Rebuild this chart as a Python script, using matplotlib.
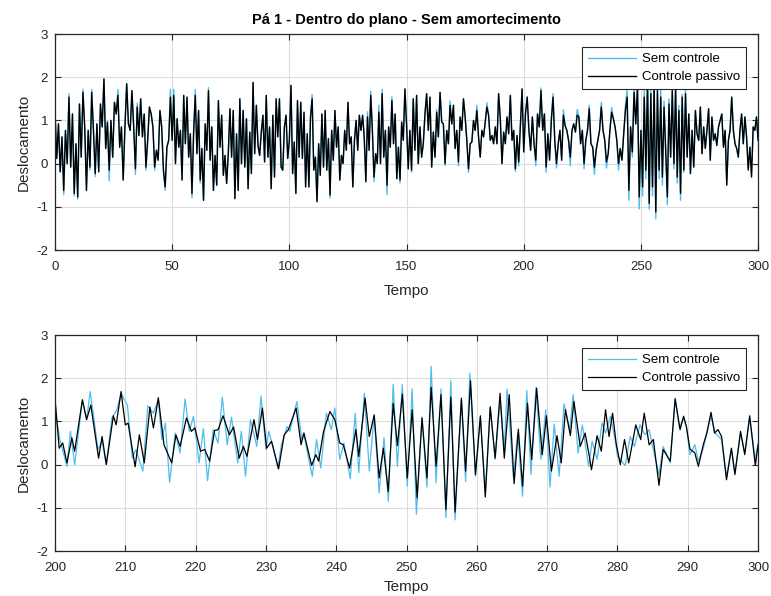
import matplotlib.pyplot as plt
import numpy as np

plt.rcParams['font.family'] = ['Liberation Sans', 'DejaVu Sans']
plt.rcParams['axes.unicode_minus'] = False

# ---- top panel: whole record, one list per 50 s window ----
top_windows = [(0, 50), (50, 100), (100, 150), (150, 200), (200, 250), (250, 300)]

top_passivo = [
    [1.23, 0.12, 0.92, -0.19, 0.62, -0.62, 0.77, 0.0, 1.54, -0.08, 1.15, -0.69, 0.46, -0.77, 1.38, 0.15,
     1.65, 0.85, -0.62, 0.77, -0.08, 1.65, 0.77, -0.23, 0.92, -0.19, 1.38, 0.85, 1.96, 0.35, 0.96, -0.15,
     1.0, 0.15, 1.42, 1.15, 1.58, 0.38, 0.85, -0.38, 0.85, 1.85, 0.92, 0.77, 1.69, 0.85, -0.12, 1.31,
     0.65, 1.50, 0.62, 1.15, -0.08, 0.54, 1.31, 1.15, 0.85, -0.08, 0.31, 0.08, 1.23, 0.85, -0.15, -0.54,
     0.38, 0.54, 1.54],
    [0.54, 1.58, 0.0, 1.04, 0.38, 0.77, -0.38, 1.58, 0.46, 1.54, 0.15, 0.69, -0.69, 0.73, 1.58, 0.23,
     1.23, -0.38, 0.35, -0.85, 0.92, 0.31, 1.69, 0.08, 0.85, -0.62, 0.19, -0.5, 1.46, 0.38, 1.12, -0.27,
     0.19, -0.46, 0.23, 1.27, 0.15, 1.23, -0.81, 0.69, -0.62, 1.5, 0.0, 1.23, -0.08, 1.04, -0.58, 0.73,
     -0.23, 1.88, 0.23, 1.35, 0.42, 0.19, 0.73, 1.12, 0.04, 1.58, 0.15, 0.85, -0.58, 1.12, -0.31, 1.5,
     0.62, 1.5, -0.08, -0.15, 0.85, 1.12, 0.12],
    [0.54, 1.81, -0.23, 0.5, -0.69, 1.46, 0.15, 1.42, 0.12, 1.19, -0.54, 0.69, -0.54, 1.08, 1.5, -0.15,
     0.15, -0.88, 0.46, -0.27, 1.15, -0.08, 1.23, -0.15, 0.58, -0.73, 0.77, 0.08, 1.23, 0.38, 0.85, -0.38,
     0.19, 0.0, 0.77, 0.31, 1.42, 0.46, 0.62, -0.54, 0.54, 1.0, 0.31, 1.12, 0.77, 1.12, 0.62, -0.42,
     1.08, 0.31, 1.58, 0.77, -0.31, 0.23, 0.0, 1.19, 0.0, 1.62, 0.15, 0.77, -0.5, 0.85, 0.38, 1.46,
     0.46, 1.15, -0.35, 0.38, -0.38, 0.96, 0.54, 1.73],
    [0.92, -0.12, 0.77, -0.15, 1.5, 0.31, 1.58, 0.0, 0.85, 0.15, 0.46, 1.15, 1.62, 0.77, 1.54, -0.08,
     0.73, 0.15, 1.19, 0.62, 1.65, 0.96, 0.92, 0.0, 0.77, 0.46, 1.35, 0.92, 1.35, 0.35, 0.77, 0.04,
     1.08, 0.77, 1.5, 1.08, 0.54, -0.12, 0.46, 0.5, 1.0, 0.77, 1.23, 0.62, 0.15, 0.77, 0.62, 0.96,
     1.31, 1.12, 0.54, 0.65, 0.46, 0.85, 0.46, 1.62, 1.04, 0.0, 0.73, 0.46, 1.08, 0.69, 1.58, 0.54,
     0.77, -0.12, 0.65, 0.04, 0.88, 1.73],
    [0.27, 1.15, 1.54, 0.77, 0.31, 1.08, 0.46, 0.08, 1.15, 0.85, 1.69, 0.77, 1.15, -0.08, 0.69, 0.08,
     1.0, 1.54, 0.54, 0.0, 0.46, 0.77, 0.08, 1.12, 0.88, 0.77, 0.54, 0.15, 0.77, 0.92, 0.73, 1.12,
     1.08, 0.46, 0.77, 0.0, 0.54, 0.77, 1.27, 0.46, 0.38, -0.08, 0.31, 0.54, 0.77, 1.31, 0.77, 0.54,
     0.04, 0.23, 0.77, 1.19, 1.04, 0.85, 0.54, 0.0, 0.35, 0.08, 0.69, 1.23, 1.54, -0.62, 0.85, 0.27,
     1.65, 0.92, 1.77, -0.77],
    [0.77, -0.54, 1.54, -0.15, 1.92, -0.92, 1.62, -0.54, 1.85, -1.12, 1.69, -0.15, 1.54, -0.31, 1.31, 0.31,
     -0.77, 1.38, 0.15, 1.69, 0.0, 1.77, -0.31, 1.23, -0.69, 1.54, -0.15, 1.62, 0.15, 1.15, -0.23, 0.77,
     -0.08, 1.23, 0.69, 0.54, 1.31, 0.23, 0.85, 0.35, 0.77, 1.27, 0.08, 1.08, 0.54, 0.69, 0.42, 0.85,
     1.0, 1.15, 0.38, 0.77, -0.5, 0.54, 0.77, 1.54, 0.77, 0.46, 0.35, 0.15, 0.77, 1.15, 0.46, 1.08,
     0.62, -0.15, 0.38, -0.31, 0.85, 0.77, 1.08, 0.54],
]

top_sem = [
    [1.23, 0.12, 0.92, -0.19, 0.62, -0.72, 0.77, 0.0, 1.62, -0.08, 1.15, -0.75, 0.46, -0.82, 1.38, 0.15,
     1.72, 0.85, -0.62, 0.77, -0.15, 1.72, 0.77, -0.3, 0.92, -0.19, 1.38, 0.85, 1.96, 0.35, 0.96, -0.4,
     1.0, 0.15, 1.42, 1.15, 1.72, 0.38, 0.85, -0.38, 0.85, 1.85, 0.92, 0.77, 1.69, 0.85, -0.25, 1.4,
     0.65, 1.5, 0.62, 1.15, -0.15, 0.54, 1.31, 1.15, 0.85, -0.15, 0.31, 0.08, 1.23, 0.85, -0.15, -0.62,
     0.38, 0.54, 1.72],
    [0.54, 1.72, 0.0, 1.04, 0.38, 0.77, -0.38, 1.58, 0.46, 1.54, 0.15, 0.69, -0.79, 0.73, 1.72, 0.23,
     1.23, -0.45, 0.35, -0.85, 0.92, 0.31, 1.76, 0.08, 0.85, -0.62, 0.19, -0.5, 1.46, 0.38, 1.12, -0.27,
     0.19, -0.46, 0.23, 1.27, 0.15, 1.23, -0.81, 0.69, -0.62, 1.5, 0.0, 1.23, -0.08, 1.04, -0.58, 0.73,
     -0.23, 1.88, 0.23, 1.35, 0.42, 0.19, 0.73, 1.12, 0.04, 1.58, 0.15, 0.85, -0.58, 1.12, -0.31, 1.5,
     0.62, 1.5, -0.08, -0.15, 0.85, 1.12, 0.12],
    [0.54, 1.81, -0.23, 0.5, -0.69, 1.46, 0.15, 1.42, 0.12, 1.19, -0.54, 0.69, -0.54, 1.08, 1.6, -0.15,
     0.15, -0.88, 0.46, -0.27, 1.15, -0.08, 1.23, -0.15, 0.58, -0.8, 0.77, 0.08, 1.23, 0.38, 0.85, -0.38,
     0.19, 0.0, 0.77, 0.31, 1.42, 0.46, 0.62, -0.54, 0.54, 1.0, 0.31, 1.12, 0.77, 1.12, 0.62, -0.42,
     1.2, 0.31, 1.68, 0.77, -0.42, 0.23, 0.0, 1.35, 0.0, 1.72, 0.15, 0.77, -0.72, 0.85, 0.38, 1.55,
     0.46, 1.15, -0.35, 0.38, -0.45, 0.96, 0.54, 1.73],
    [0.92, -0.12, 0.77, -0.2, 1.5, 0.31, 1.58, 0.0, 0.85, 0.15, 0.46, 1.15, 1.62, 0.77, 1.54, -0.08,
     0.73, 0.15, 1.25, 0.62, 1.65, 0.96, 0.92, -0.05, 0.77, 0.46, 1.45, 0.92, 1.35, 0.35, 0.77, -0.05,
     1.08, 0.77, 1.5, 1.08, 0.54, -0.2, 0.46, 0.5, 1.0, 0.77, 1.35, 0.62, 0.15, 0.77, 0.62, 0.96,
     1.41, 1.12, 0.54, 0.65, 0.46, 0.85, 0.46, 1.62, 1.04, 0.0, 0.73, 0.46, 1.08, 0.69, 1.58, 0.54,
     0.77, -0.18, 0.65, -0.05, 0.88, 1.73],
    [0.27, 1.15, 1.54, 0.77, 0.31, 1.08, 0.46, -0.05, 1.15, 0.85, 1.75, 0.77, 1.15, -0.2, 0.69, 0.08,
     1.0, 1.62, 0.54, -0.1, 0.46, 0.77, 0.08, 1.25, 0.88, 0.77, 0.54, -0.05, 0.77, 0.92, 0.73, 1.25,
     1.08, 0.46, 0.77, -0.12, 0.54, 0.77, 1.35, 0.46, 0.38, -0.25, 0.31, 0.54, 0.77, 1.42, 0.77, 0.54,
     -0.1, 0.23, 0.77, 1.3, 1.04, 0.85, 0.54, -0.15, 0.35, 0.08, 0.69, 1.35, 1.7, -0.85, 0.85, 0.15,
     1.8, 0.92, 1.85, -1.05],
    [0.77, -0.75, 1.7, -0.35, 1.95, -1.05, 1.75, -0.75, 1.9, -1.28, 1.8, -0.35, 1.7, -0.5, 1.45, 0.31,
     -0.95, 1.5, 0.15, 1.75, -0.12, 1.8, -0.45, 1.35, -0.85, 1.6, -0.2, 1.7, 0.15, 1.15, -0.23, 0.77,
     -0.08, 1.23, 0.69, 0.54, 1.31, 0.23, 0.85, 0.35, 0.77, 1.27, 0.08, 1.08, 0.54, 0.69, 0.42, 0.85,
     1.0, 1.15, 0.38, 0.77, -0.45, 0.54, 0.77, 1.54, 0.77, 0.46, 0.35, 0.15, 0.77, 1.15, 0.46, 1.08,
     0.62, -0.1, 0.38, -0.25, 0.85, 0.77, 1.08, 0.54],
]

# ---- bottom panel: zoom 200-300 s, (time, value) at turning points ----
zoom_t_passivo = [200.0, 200.6, 201.1, 201.7, 202.4, 202.8, 203.9, 204.5, 205.1, 206.2, 206.7, 207.3, 208.3, 208.7,
                  209.4, 210.0, 210.4, 211.4, 212.0, 212.7, 213.5, 214.0, 214.7, 215.5, 216.6, 217.2, 217.8, 218.7,
                  219.4, 219.9, 220.7, 221.3, 222.0, 222.7, 223.2, 223.9, 224.8, 225.4, 226.2, 226.8, 227.3, 228.3,
                  228.8, 229.5, 230.1, 230.8, 231.8, 232.6, 233.2, 234.3, 235.0, 235.4, 236.5, 237.1, 237.5, 238.2,
                  239.1, 239.8, 240.5, 241.0, 241.9, 242.8, 243.2, 244.1, 244.7, 245.4, 246.1, 246.7, 247.4, 248.1,
                  248.7, 249.4, 250.1, 250.8, 251.5, 252.2, 252.9, 253.5, 254.2, 254.9, 255.6, 256.3, 256.9, 257.8,
                  258.4, 259.1, 259.8, 260.5, 261.2, 261.9, 262.6, 263.3, 263.9, 264.6, 265.3, 265.9, 266.5, 267.2,
                  267.8, 268.5, 269.3, 269.9, 270.6, 271.4, 272.0, 272.6, 273.3, 273.8, 274.7, 275.4, 276.0, 276.3,
                  277.1, 277.7, 278.3, 278.8, 279.3, 279.8, 280.4, 281.0, 281.6, 282.6, 283.3, 283.8, 284.5, 285.1,
                  285.9, 286.5, 287.5, 288.2, 288.9, 289.4, 289.8, 290.3, 291.0, 291.5, 292.2, 292.7, 293.3, 293.8,
                  294.3, 294.8, 295.5, 296.2, 296.7, 297.5, 298.1, 298.8, 299.6, 300.0]
zoom_v_passivo = [1.54, 0.38, 0.50, 0.04, 0.62, 0.31, 1.50, 1.04, 1.38, 0.15, 0.65, 0.0, 1.13, 0.92,
                  1.69, 0.92, 0.96, -0.05, 0.69, 0.04, 1.33, 0.85, 1.55, 0.46, 0.04, 0.69, 0.42, 1.08,
                  0.77, 0.85, 0.31, 0.35, 0.08, 0.79, 0.81, 1.13, 0.69, 0.87, 0.15, 0.42, 0.19, 1.04,
                  0.58, 1.31, 0.38, 0.54, -0.10, 0.69, 0.81, 1.31, 0.46, 0.73, -0.02, 0.23, 0.08, 0.77,
                  1.23, 1.04, 0.50, 0.46, -0.08, 0.81, 0.19, 1.54, 0.65, 1.15, -0.31, 0.38, -0.62, 1.42,
                  0.44, 1.63, -0.31, 1.27, -0.77, 1.08, -0.31, 1.79, -0.04, 1.62, -1.04, 1.56, -1.10, 1.54,
                  -0.15, 1.94, -0.23, 1.13, -0.75, 1.33, 0.15, 1.65, 0.15, 1.62, -0.44, 0.82, -0.50, 1.42,
                  0.12, 1.77, 0.23, 1.13, -0.15, 0.67, 0.04, 1.27, 0.67, 1.46, 0.42, 0.73, 0.19, -0.12,
                  0.67, 0.31, 1.27, 0.65, 1.19, 0.50, 0.0, 0.58, 0.04, 0.92, 0.58, 1.19, 0.46, 0.58,
                  -0.48, 0.35, 0.08, 1.52, 0.81, 1.12, 0.88, 0.36, 0.27, -0.04, 0.46, 0.73, 1.21, 0.73,
                  0.81, 0.65, -0.35, 0.38, -0.23, 0.77, 0.23, 1.13, -0.02, 0.46]

zoom_t_sem = [200.0, 200.7, 201.7, 202.2, 202.8, 203.9, 204.5, 205.0, 205.5, 206.1, 206.7, 207.3, 208.1, 208.8,
              209.4, 210.3, 211.0, 211.5, 212.5, 213.2, 214.0, 214.7, 215.2, 215.7, 216.3, 217.1, 217.8, 218.5,
              219.1, 219.7, 220.5, 221.1, 221.7, 222.5, 223.2, 223.8, 224.5, 225.1, 225.6, 226.0, 226.5, 227.1,
              227.8, 228.7, 229.3, 230.0, 230.4, 231.1, 231.7, 232.2, 233.0, 233.4, 234.4, 235.1, 235.4, 236.0,
              236.6, 237.2, 237.8, 238.6, 239.3, 239.8, 240.5, 241.1, 242.0, 242.7, 243.2, 244.0, 244.7, 245.4,
              246.1, 246.8, 247.4, 248.1, 248.7, 249.4, 250.1, 250.8, 251.4, 252.2, 252.9, 253.5, 254.2, 254.9,
              255.6, 256.3, 256.9, 257.8, 258.4, 259.0, 259.8, 260.5, 261.2, 261.9, 262.6, 263.3, 263.9, 264.3,
              265.2, 265.8, 266.5, 267.1, 267.7, 268.4, 269.1, 269.8, 270.4, 271.0, 271.7, 272.4, 273.2, 273.7,
              274.4, 275.0, 275.9, 276.4, 277.1, 277.8, 278.3, 279.0, 279.7, 280.0, 281.1, 281.8, 282.4, 283.2,
              283.9, 284.5, 285.2, 285.9, 286.5, 287.5, 288.2, 288.8, 289.4, 289.8, 290.3, 291.0, 291.5, 292.2,
              293.3, 293.9, 294.8, 295.5, 296.2, 296.7, 297.5, 298.1, 298.8, 299.6, 300.0]
zoom_v_sem = [1.27, 0.58, -0.04, 0.77, 0.0, 1.50, 1.04, 1.69, 1.12, 0.35, 0.54, 0.0, 1.08, 1.27,
              1.65, 1.38, 0.15, 0.35, -0.15, 1.36, 1.19, 1.50, 0.58, 0.96, -0.41, 0.73, 0.27, 1.52,
              0.77, 1.12, 0.04, 0.83, -0.37, 0.81, 0.50, 1.56, 0.46, 1.10, 0.50, 0.04, 0.77, -0.27,
              1.04, 0.42, 1.59, 0.35, 0.77, 0.35, -0.08, 0.46, 0.88, 0.77, 1.46, 0.58, 0.73, 0.19,
              -0.27, 0.58, -0.08, 1.19, 0.81, 1.31, 0.12, 0.50, -0.33, 1.19, -0.19, 1.65, -0.15, 1.14,
              -0.65, 0.62, -0.85, 1.86, -0.04, 1.85, -0.50, 1.75, -1.15, 1.10, -0.52, 2.28, -0.42, 1.75,
              -1.23, 1.94, -1.28, 1.50, -0.39, 2.12, -0.27, 1.08, -0.62, 1.35, 0.12, 1.50, 0.35, 1.75,
              -0.31, 0.73, -0.73, 1.72, -0.23, 1.79, 0.12, 1.27, -0.52, 0.94, -0.27, 1.41, 0.81, 1.62,
              0.27, 0.92, -0.04, 0.54, 0.12, 0.96, 0.73, 1.12, 0.54, 0.19, -0.02, 0.65, 0.42, 0.92,
              0.69, 0.81, 0.27, -0.23, 0.42, 0.04, 1.54, 0.85, 1.08, 0.88, 0.23, 0.46, 0.08, 0.38,
              1.12, 0.73, 0.58, -0.27, 0.35, -0.19, 0.73, 0.27, 1.08, 0.12, 0.50]

cor_sem = '#4DBEEE'
cor_passivo = 'k'
labels = ['Sem controle', 'Controle passivo']

t_top_sem, v_top_sem, t_top_pas, v_top_pas = [], [], [], []
for (t0, t1), s, p in zip(top_windows, top_sem, top_passivo):
    last = t1 == 300
    t_top_sem.append(np.linspace(t0, t1, len(s), endpoint=last))
    t_top_pas.append(np.linspace(t0, t1, len(p), endpoint=last))
    v_top_sem.append(s)
    v_top_pas.append(p)
t_top_sem = np.concatenate(t_top_sem)
t_top_pas = np.concatenate(t_top_pas)
v_top_sem = np.concatenate(v_top_sem)
v_top_pas = np.concatenate(v_top_pas)

fig = plt.figure(figsize=(7.71, 5.96), dpi=100)
ax1 = fig.add_axes([0.0713, 0.5805, 0.912, 0.3624])
ax2 = fig.add_axes([0.0713, 0.0755, 0.912, 0.3624])


def estilo(ax, xlim, xticks, xpad):
    ax.set_xlim(*xlim)
    ax.set_ylim(-2, 3)
    ax.set_xticks(xticks)
    ax.set_yticks(range(-2, 4))
    ax.grid(True, color='#dcdcdc', linewidth=0.8)
    ax.set_axisbelow(True)
    ax.tick_params(direction='in', top=True, right=True, labelsize=9.5, length=4,
                   color='#262626', labelcolor='#262626')
    ax.tick_params(axis='x', pad=8)
    ax.tick_params(axis='y', pad=5)
    for sp in ax.spines.values():
        sp.set_color('#262626')
        sp.set_linewidth(0.9)
    ax.set_xlabel('Tempo', fontsize=11, color='#262626', labelpad=xpad)
    ax.set_ylabel('Deslocamento', fontsize=11, color='#262626', labelpad=4)
    leg = ax.legend(labels, loc='upper right', bbox_to_anchor=(0.983, 0.94), fontsize=9.5,
                    fancybox=False, framealpha=1, edgecolor='#262626', handlelength=3.6,
                    borderpad=0.45, labelspacing=0.45, handletextpad=0.5, borderaxespad=0)
    leg.get_frame().set_linewidth(0.8)


ax1.plot(t_top_sem, v_top_sem, color=cor_sem, linewidth=1.0)
ax1.plot(t_top_pas, v_top_pas, color=cor_passivo, linewidth=1.0)
estilo(ax1, (0, 300), range(0, 301, 50), 8)
ax1.set_title('Pá 1 - Dentro do plano - Sem amortecimento', fontsize=10.5, fontweight='bold', pad=7)

ax2.plot(zoom_t_sem, zoom_v_sem, color=cor_sem, linewidth=0.9)
ax2.plot(zoom_t_passivo, zoom_v_passivo, color=cor_passivo, linewidth=0.9)
estilo(ax2, (200, 300), range(200, 301, 10), 4)

fig.savefig('out.png', dpi=100)
